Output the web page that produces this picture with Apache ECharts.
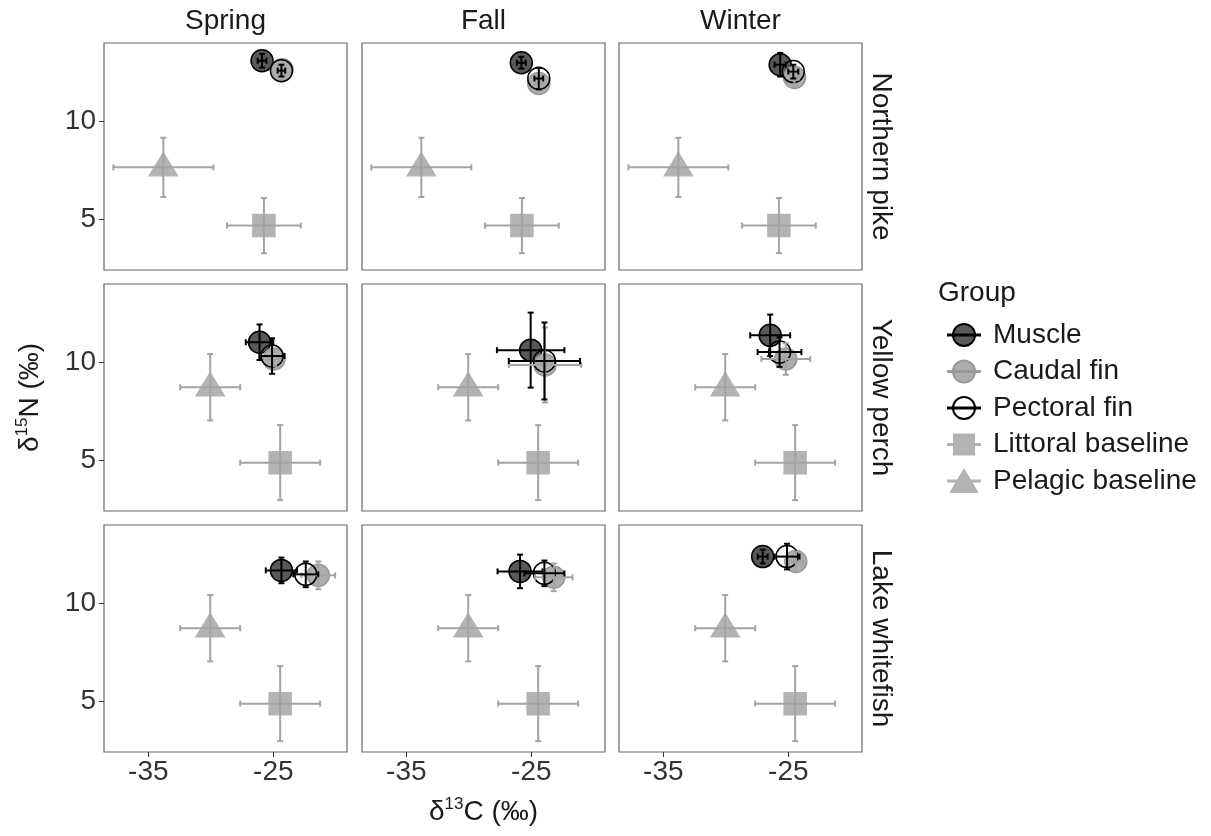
<!DOCTYPE html>
<html>
<head>
<meta charset="utf-8">
<title>ECharts</title>
<script src="https://cdn.jsdelivr.net/npm/echarts@6/dist/echarts.min.js"></script>
</head>
<body style="margin:0">
<div id="main" style="width:1211px;height:836px;"></div>
<script type="text/javascript">
var seasons = ['Spring', 'Fall', 'Winter'];
var species = ['Northern pike', 'Yellow perch', 'Lake whitefish'];
var groups = ['Muscle', 'Caudal fin', 'Pectoral fin', 'Littoral baseline', 'Pelagic baseline'];
var xTicks = [-35, -25];
var yTicks = [5, 10];

// [d13C, d15N, sd d13C, sd d15N]
// rows: pike spring, fall, winter / perch spring, fall, winter / whitefish spring, fall, winter
var muscle = [
    [-25.9, 13.05, 0.35, 0.35], [-25.8, 12.95, 0.35, 0.3], [-25.65, 12.85, 0.45, 0.6],
    [-26.1, 11.0, 1.1, 0.9], [-25.05, 10.6, 2.7, 1.9], [-26.45, 11.35, 1.6, 1.05],
    [-24.35, 11.65, 1.25, 0.65], [-25.9, 11.6, 1.8, 0.85], [-27.05, 12.35, 0.4, 0.35]
];
var caudal = [
    [-24.3, 12.6, 0.35, 0.3], [-24.4, 11.9, 0.3, 0.35], [-24.5, 12.2, 0.35, 0.35],
    [-24.95, 10.15, 0.5, 0.35], [-23.9, 9.85, 2.9, 1.9], [-25.2, 10.15, 1.95, 0.8],
    [-21.4, 11.4, 1.35, 0.7], [-23.2, 11.3, 1.5, 0.7], [-24.4, 12.1, 0.6, 0.5]
];
var pectoral = [
    [-24.35, 12.55, 0.3, 0.3], [-24.4, 12.15, 0.35, 0.55], [-24.6, 12.5, 0.4, 0.35],
    [-25.1, 10.3, 1.0, 0.9], [-23.95, 10.05, 2.85, 1.95], [-25.7, 10.5, 1.75, 0.75],
    [-22.4, 11.45, 1.0, 0.65], [-23.95, 11.5, 1.6, 0.65], [-25.1, 12.35, 1.0, 0.65]
];
var littoral = [
    [-25.75, 4.7, 2.95, 1.4], [-25.75, 4.7, 2.95, 1.4], [-25.75, 4.7, 2.95, 1.4],
    [-24.45, 4.9, 3.2, 1.9], [-24.45, 4.9, 3.2, 1.9], [-24.45, 4.9, 3.2, 1.9],
    [-24.45, 4.9, 3.2, 1.9], [-24.45, 4.9, 3.2, 1.9], [-24.45, 4.9, 3.2, 1.9]
];
var pelagic = [
    [-33.8, 7.65, 4.0, 1.5], [-33.8, 7.65, 4.0, 1.5], [-33.8, 7.65, 4.0, 1.5],
    [-30.05, 8.72, 2.4, 1.68], [-30.05, 8.72, 2.4, 1.68], [-30.05, 8.72, 2.4, 1.68],
    [-30.05, 8.72, 2.4, 1.68], [-30.05, 8.72, 2.4, 1.68], [-30.05, 8.72, 2.4, 1.68]
];
var groupData = [muscle, caudal, pectoral, littoral, pelagic];

var font = 'Liberation Sans, Arial, sans-serif';
var fs = 28;
var lefts = [104, 362, 619], tops = [43, 284, 525];
var pw = 243, ph = 227;

// looks for each group: point and error bar
var looks = [
    {symbol: 'circle', size: 22, fill: 'rgba(60,60,60,0.85)', border: '#000', bar: '#000'},
    {symbol: 'circle', size: 22, fill: '#adadad', border: '#999', bar: '#a3a3a3'},
    {symbol: 'circle', size: 22, fill: 'rgba(255,255,255,0)', border: '#000', bar: '#000'},
    {symbol: 'rect', size: 22, fill: '#b3b3b3', border: '#b3b3b3', bar: '#a3a3a3'},
    {symbol: 'triangle', size: [28, 23], fill: '#b3b3b3', border: '#b3b3b3', bar: '#a3a3a3', offset: [0, -3]}
];
var icons = [
    'path://M0,10.5H32V11.5H0Z M27,11A11,11 0 1 1 5,11A11,11 0 1 1 27,11Z',
    'path://M0,10.5H32V11.5H0Z M27,11A11,11 0 1 1 5,11A11,11 0 1 1 27,11Z',
    'path://M0,10.5H32V11.5H0Z M27,11A11,11 0 1 1 5,11A11,11 0 1 1 27,11Z',
    'path://M0,10.5H32V11.5H0Z M6,1H26V21H6Z',
    'path://M0,10.5H32V11.5H0Z M16,0L29,22H3Z'
];

function errRender(params, api) {
    var x = api.value(0), y = api.value(1), ex = api.value(2), ey = api.value(3);
    var l = api.coord([x - ex, y]), r = api.coord([x + ex, y]);
    var t = api.coord([x, y + ey]), b = api.coord([x, y - ey]);
    var c = 3;
    var st = {stroke: api.visual('color'), lineWidth: 2};
    return {
        type: 'group',
        children: [
            {type: 'line', shape: {x1: l[0], y1: l[1], x2: r[0], y2: r[1]}, style: st},
            {type: 'line', shape: {x1: t[0], y1: t[1], x2: b[0], y2: b[1]}, style: st},
            {type: 'line', shape: {x1: l[0], y1: l[1] - c, x2: l[0], y2: l[1] + c}, style: st},
            {type: 'line', shape: {x1: r[0], y1: r[1] - c, x2: r[0], y2: r[1] + c}, style: st},
            {type: 'line', shape: {x1: t[0] - c, y1: t[1], x2: t[0] + c, y2: t[1]}, style: st},
            {type: 'line', shape: {x1: b[0] - c, y1: b[1], x2: b[0] + c, y2: b[1]}, style: st}
        ]
    };
}

var grids = [], xAxes = [], yAxes = [], series = [], graphics = [];
for (var r = 0; r < 3; r++) {
    for (var c = 0; c < 3; c++) {
        var k = r * 3 + c;
        grids.push({left: lefts[c], top: tops[r], width: pw, height: ph,
            show: true, borderColor: '#666', borderWidth: 1.2, backgroundColor: '#fff'});
        xAxes.push({
            type: 'value', gridIndex: k, min: -38.55, max: -19.1,
            axisLine: {show: false}, splitLine: {show: false},
            axisTick: {show: r === 2, customValues: xTicks, length: 5, lineStyle: {color: '#333'}},
            axisLabel: {show: r === 2, customValues: xTicks, fontSize: fs, color: '#333', margin: 6, fontFamily: font},
            name: k === 7 ? 'δ{sup|13}C (‰)' : '',
            nameLocation: 'middle', nameGap: 44,
            nameTextStyle: {fontSize: fs, color: '#1a1a1a', fontFamily: font, lineHeight: 32,
                rich: {sup: {fontSize: 17, verticalAlign: 'top', lineHeight: 17, fontFamily: font, color: '#1a1a1a'}}}
        });
        yAxes.push({
            type: 'value', gridIndex: k, min: 2.45, max: 13.95,
            axisLine: {show: false}, splitLine: {show: false},
            axisTick: {show: c === 0, customValues: yTicks, length: 5, lineStyle: {color: '#333'}},
            axisLabel: {show: c === 0, customValues: yTicks, fontSize: fs, color: '#333', margin: 8, fontFamily: font},
            name: k === 3 ? 'δ{sup|15}N (‰)' : '',
            nameLocation: 'middle', nameGap: 58,
            nameTextStyle: {fontSize: fs, color: '#1a1a1a', fontFamily: font, lineHeight: 32,
                rich: {sup: {fontSize: 17, verticalAlign: 'top', lineHeight: 17, fontFamily: font, color: '#1a1a1a'}}}
        });
        for (var g = 0; g < groups.length; g++) {
            var d = groupData[g][k];
            var lk = looks[g];
            series.push({
                type: 'scatter', name: groups[g], xAxisIndex: k, yAxisIndex: k,
                symbol: lk.symbol, symbolSize: lk.size, symbolOffset: lk.offset || [0, 0],
                itemStyle: {color: lk.fill, borderColor: lk.border, borderWidth: 1.5, opacity: 1},
                data: [[d[0], d[1]]], z: 2 + g * 0.01, silent: true
            });
        }
        for (var g2 = 0; g2 < groups.length; g2++) {
            var d2 = groupData[g2][k];
            series.push({
                type: 'custom', name: groups[g2] + ' sd', xAxisIndex: k, yAxisIndex: k,
                renderItem: errRender, encode: {x: 0, y: 1},
                itemStyle: {color: looks[g2].bar},
                data: [d2], z: 3 + g2 * 0.01, silent: true
            });
        }
    }
}

for (var i = 0; i < 3; i++) {
    graphics.push({type: 'text', x: lefts[i] + pw / 2, y: 21,
        style: {text: seasons[i], fontSize: fs, fontFamily: font, fill: '#1a1a1a', align: 'center', verticalAlign: 'middle'}});
    graphics.push({type: 'text', x: 881, y: tops[i] + ph / 2, rotation: -Math.PI / 2,
        style: {text: species[i], fontSize: fs, fontFamily: font, fill: '#1a1a1a', align: 'center', verticalAlign: 'middle'}});
}

var myChart = echarts.init(document.getElementById('main'));
var option = {
    backgroundColor: '#fff',
    animation: false,
    title: {text: 'Group', left: 933, top: 274,
        textStyle: {fontSize: fs, fontWeight: 'normal', color: '#1a1a1a', fontFamily: font}},
    legend: {
        orient: 'vertical', left: 942, top: 316,
        itemWidth: 32, itemHeight: 22, itemGap: 8.5,
        textStyle: {fontSize: fs, color: '#1a1a1a', fontFamily: font, padding: [0, 0, 0, 8]},
        selectedMode: false,
        data: groups.map(function (g, i) { return {name: g, icon: icons[i]}; })
    },
    grid: grids,
    xAxis: xAxes,
    yAxis: yAxes,
    series: series,
    graphic: graphics
};
myChart.setOption(option);
</script>
</body>
</html>
